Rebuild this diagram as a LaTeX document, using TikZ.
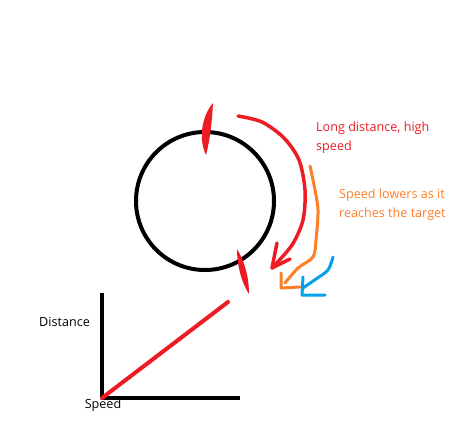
\documentclass[tikz,border=0pt]{standalone}
\usepackage{fontspec}
\setmainfont{Open Sans}
\definecolor{pred}{RGB}{237,28,36}
\definecolor{porange}{RGB}{255,127,39}
\definecolor{pblue}{RGB}{0,162,232}
\begin{document}
\begin{tikzpicture}[x=1pt,y=-1pt,line cap=round,line join=round,
  lbl/.style={font=\fontsize{12.6}{19}\selectfont,inner sep=0pt,align=left,anchor=north west},
  pen/.style={line width=3.5pt}]
\useasboundingbox[fill=white] (0,0) rectangle (470,447);
% circle
\draw[line width=4pt] (205,201) circle[radius=69];
% red marks on the circle
\fill[pred] (213,103) .. controls (212,122) and (210,140) .. (206,155)
  .. controls (198,138) and (202,116) .. cycle;
\fill[pred] (237,249) .. controls (245,262) and (249,278) .. (249,294)
  .. controls (240,280) and (237,262) .. cycle;
% red arc arrow
\draw[pred,pen] plot[smooth] coordinates {(238,116) (262,122) (284,138) (299,160) (305,190) (303,220) (292,245) (272,268)};
\draw[pred,pen] (277,243) -- (272,268) -- (290,259);
% orange arrow
\draw[porange,line width=3pt] plot[smooth] coordinates {(310,166) (314,185) (318,210) (316,240) (313,257) (298,268) (285,283)};
\draw[porange,line width=3pt] (281,273) -- (281,288) -- (300,287);
% blue arrow
\draw[pblue,line width=3pt] plot[smooth] coordinates {(333,257) (328,270) (316,279) (303,288)};
\draw[pblue,line width=3pt] (303,277) -- (302,295) -- (325,295);
% axes
\coordinate (o) at (102,398);
\coordinate (ytop) at (102,295);
\coordinate (xend) at (238,398);
\coordinate (rend) at (228,302);
\draw[line width=4pt,line cap=rect] (ytop) -- (o) -- (xend);
\draw[pred,line width=4pt] (o) -- (rend);
% texts
\node[lbl,anchor=center] (dist) at (64.5,322) {Distance};
\node[lbl,anchor=center] (speed) at (103,405) {Speed};
\node[lbl,text=pred] (long) at (316,122) {Long distance, high\\speed};
\node[lbl,text=porange] (lower) at (339,189) {Speed lowers as it\\reaches the target};
\end{tikzpicture}
\end{document}
